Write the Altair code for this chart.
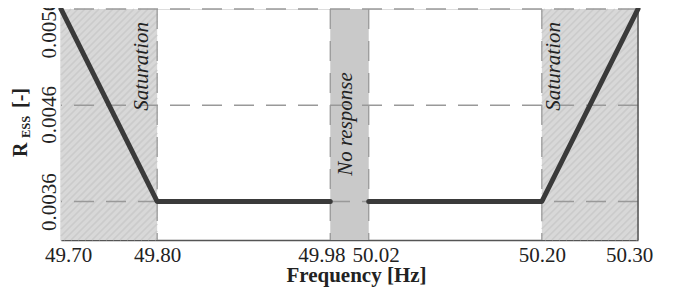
import altair as alt
import pandas as pd

# ---- data ----
freq = [49.70, 49.80, 49.98, 50.02, 50.20, 50.30]
ress = [0.0056, 0.0036, 0.0036, 0.0036, 0.0036, 0.0056]
segment = ["a", "a", "a", "b", "b", "b"]

x_ticks = [49.70, 49.80, 49.98, 50.02, 50.20, 50.30]
y_ticks = [0.0036, 0.0046, 0.0056]

sat_start = [49.70, 50.20]
sat_end = [49.80, 50.30]
nr_start = [49.98]
nr_end = [50.02]

y_min, y_max = 0.0032, 0.0056
x_min, x_max = 49.70, 50.30

FONT = "'Liberation Serif', 'Times New Roman', Times, serif"
W, H = 577, 231

line_df = pd.DataFrame({"f": freq, "r": ress, "seg": segment})
sat_df = pd.DataFrame({"x": sat_start, "x2": sat_end, "y": [y_min] * 2, "y2": [y_max] * 2})
nr_df = pd.DataFrame({"x": nr_start, "x2": nr_end, "y": [y_min], "y2": [y_max]})
xg_df = pd.DataFrame({"x": x_ticks[1:-1]})
yg_df = pd.DataFrame({"y": y_ticks})
edge_df = pd.DataFrame({"x": [x_max], "y": [y_min], "y2": [y_max]})

# decorative diagonal hatch inside the saturation bands
kx = W / (x_max - x_min)
ky = H / (y_max - y_min)
hatch = []
for a, b in zip(sat_start, sat_end):
    p0, p1 = (a - x_min) * kx, (b - x_min) * kx
    c = p0 + 3
    while c < p1 + H:
        xa, xb = max(p0, c - H), min(p1, c)
        if xb > xa:
            hatch.append({"x": x_min + xa / kx, "y": y_max - (c - xa) / ky,
                          "x2": x_min + xb / kx, "y2": y_max - (c - xb) / ky})
        c += 7
hatch_df = pd.DataFrame(hatch)

xs = alt.Scale(domain=[x_min, x_max], nice=False, zero=False)
ys = alt.Scale(domain=[y_min, y_max], nice=False, zero=False)

x_axis = alt.Axis(
    values=x_ticks, format=".2f", grid=False, ticks=False, tickSize=0,
    labelFont=FONT, labelFontSize=21, labelColor="#222", labelBaseline="alphabetic",
    labelPadding=21.5, labelFlush=False, labelOverlap=False,
    labelOffset={"condition": [
        {"test": "datum.value < 49.75", "value": 7},
        {"test": "abs(datum.value - 49.98) < 0.001", "value": -9},
        {"test": "abs(datum.value - 50.02) < 0.001", "value": 7},
        {"test": "datum.value > 50.25", "value": -9}], "value": 0},
    domainColor="#555", domainWidth=1.5,
    title="Frequency [Hz]", titleFont=FONT, titleFontSize=21, titleFontWeight="bold",
    titleColor="#222", titleBaseline="alphabetic", titleAlign="center", titleX=295, titleY=41.5,
)
y_axis = alt.Axis(
    values=y_ticks, format=".4f", grid=False, ticks=False, tickSize=0,
    labelFont=FONT, labelFontSize=21, labelColor="#222", labelAngle=270,
    labelAlign="center", labelBaseline="alphabetic", labelPadding=6, labelOverlap=False,
    labelBound=False, labelFlush=False,
    labelOffset={"condition": [
        {"test": "datum.value > 0.005", "value": 20},
        {"test": "datum.value > 0.004 && datum.value < 0.005", "value": 9}], "value": 0},
    domainColor="#888", domainWidth=1.5, title=None,
)

sat = alt.Chart(sat_df).mark_rect(fill="#d8d8d8", stroke=None).encode(
    x=alt.X("x:Q", scale=xs, axis=x_axis), x2="x2", y=alt.Y("y:Q", scale=ys, axis=y_axis), y2="y2")
hatch_l = alt.Chart(hatch_df).mark_rule(color="#cbcbcb", strokeWidth=1.6).encode(
    x="x:Q", y="y:Q", x2="x2", y2="y2")
nr = alt.Chart(nr_df).mark_rect(fill="#c9c9c9").encode(x="x:Q", x2="x2", y="y:Q", y2="y2")

xgrid = alt.Chart(xg_df).mark_rule(color="#999", strokeWidth=1.3, strokeDash=[20, 12]).encode(x="x:Q")
ygrid = alt.Chart(yg_df).mark_rule(color="#999", strokeWidth=1.3, strokeDash=[20, 12]).encode(y="y:Q")
edge = alt.Chart(edge_df).mark_rule(color="#555", strokeWidth=1.5).encode(x="x:Q", y="y:Q", y2="y2")

line = alt.Chart(line_df).mark_line(color="#3a3a3a", strokeWidth=5, strokeCap="round",
                                    strokeJoin="round").encode(
    x="f:Q", y="r:Q", detail="seg:N")

labels_df = pd.DataFrame({"x": [49.7905, 50.219], "t": ["Saturation", "Saturation"]})
sat_txt = alt.Chart(labels_df).mark_text(
    font=FONT, fontSize=21, fontStyle="italic", angle=270, align="right",
    baseline="alphabetic", color="#222").encode(x="x:Q", y=alt.value(13), text="t:N")
nr_lab = pd.DataFrame({"x": [50.0026], "t": ["No response"]})
nr_txt = alt.Chart(nr_lab).mark_text(
    font=FONT, fontSize=21, fontStyle="italic", angle=270, align="center",
    baseline="alphabetic", color="#222").encode(x="x:Q", y=alt.value(115), text="t:N")

# y-axis title with subscript, built from text pieces
yt_parts = ["R", "ESS", "[-]"]
yt_df = pd.DataFrame({"t": yt_parts})
r_txt = alt.Chart(yt_df.iloc[[0]]).mark_text(
    font=FONT, fontSize=20, fontWeight="bold", angle=270, align="left",
    baseline="alphabetic", color="#222").encode(x=alt.value(-34), y=alt.value(148), text="t:N")
ess_txt = alt.Chart(yt_df.iloc[[1]]).mark_text(
    font=FONT, fontSize=12.5, fontWeight="bold", angle=270, align="left",
    baseline="alphabetic", color="#222").encode(x=alt.value(-31), y=alt.value(129), text="t:N")
br_txt = alt.Chart(yt_df.iloc[[2]]).mark_text(
    font=FONT, fontSize=20, fontWeight="bold", angle=270, align="left",
    baseline="alphabetic", color="#222").encode(x=alt.value(-34), y=alt.value(99), text="t:N")

chart = alt.layer(sat, hatch_l, nr, xgrid, ygrid, edge, line, sat_txt, nr_txt,
                  r_txt, ess_txt, br_txt).properties(
    width=W, height=H,
    autosize=alt.AutoSizeParams(type="none"),
    padding={"left": 53, "top": 1, "right": 36, "bottom": 47},
).configure_view(stroke=None).configure(background="white")

chart.save("out.html", embed_options={"renderer": "svg", "actions": False})
